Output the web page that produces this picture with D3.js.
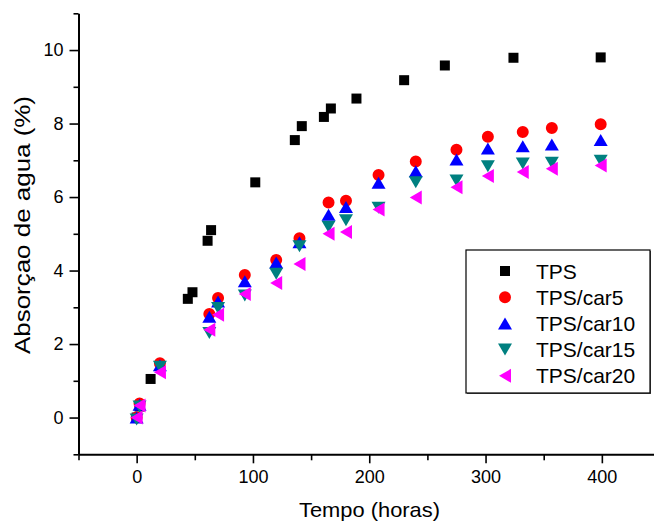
<!DOCTYPE html>
<html>
<head>
<meta charset="utf-8">
<script src="https://cdn.jsdelivr.net/npm/d3@7"></script>
<style>
  body { margin: 0; background: #fff; }
  svg { display: block; font-family: "Liberation Sans", Arial, sans-serif; }
</style>
</head>
<body>
<div id="chart"></div>
<script>
const WIDTH = 654;
const HEIGHT = 523;

// sample times (hours)
const timesTPS = [0, 2.5, 12, 44, 48, 61, 64, 102, 136, 142, 161, 167, 189, 230, 265, 324, 399];
const timesCar = [0, 2.5, 20, 62.5, 70, 93, 120, 140, 165, 180, 208, 240, 275, 302, 332, 357, 399];

// water absorption (%)
const tps = [0, 0.3, 1.05, 3.23, 3.41, 4.81, 5.1, 6.4, 7.55, 7.93, 8.18, 8.41, 8.68, 9.18, 9.58, 9.79, 9.8];
const car5 = [0, 0.38, 1.48, 2.82, 3.25, 3.88, 4.29, 4.88, 5.85, 5.9, 6.6, 6.97, 7.29, 7.64, 7.77, 7.88, 7.98];
const car10 = [0, 0.35, 1.42, 2.74, 3.16, 3.71, 4.22, 4.77, 5.52, 5.73, 6.39, 6.7, 7.02, 7.32, 7.38, 7.43, 7.55];
const car15 = [-0.05, 0.3, 1.38, 2.3, 2.98, 3.32, 3.91, 4.66, 5.19, 5.37, 5.71, 6.4, 6.45, 6.84, 6.91, 6.93, 6.99];
const car20 = [0, 0.33, 1.23, 2.39, 2.8, 3.36, 3.66, 4.18, 5.0, 5.05, 5.66, 5.99, 6.27, 6.57, 6.68, 6.77, 6.86];

const seriesNames = ['TPS', 'TPS/car5', 'TPS/car10', 'TPS/car15', 'TPS/car20'];
const seriesColours = ['#000000', '#ff0000', '#0000ff', '#008080', '#ff00ff'];
const seriesShapes = ['square', 'circle', 'up', 'down', 'left'];

const xMajorTicks = [0, 100, 200, 300, 400];
const xMinorTicks = [-50, 50, 150, 250, 350, 450];
const yMajorTicks = [0, 2, 4, 6, 8, 10];
const yMinorTicks = [-1, 1, 3, 5, 7, 9, 11];

const series = [
  { times: timesTPS, values: tps },
  { times: timesCar, values: car5 },
  { times: timesCar, values: car10 },
  { times: timesCar, values: car15 },
  { times: timesCar, values: car20 },
].map((s, i) => ({
  name: seriesNames[i],
  colour: seriesColours[i],
  shape: seriesShapes[i],
  points: s.times.map((t, j) => ({ t: t, v: s.values[j] })),
}));

const margin = { left: 78.5, top: 13.3, bottom: 454.3, right: 660 };

const x = d3.scaleLinear().domain([-50, 450]).range([margin.left, margin.right]);
const y = d3.scaleLinear().domain([-1, 11]).range([margin.bottom, margin.top]);

// marker path centred on 0,0
const marker = (shape) => {
  switch (shape) {
    case 'square':
      return 'M-5,-5H5V5H-5Z';
    case 'circle':
      return d3.symbol(d3.symbolCircle, 113)();
    case 'up':
      return 'M0,-6L7,6L-7,6Z';
    case 'down':
      return 'M0,6L7,-6L-7,-6Z';
    case 'left':
      return 'M-6,0L6,-7L6,7Z';
  }
};

const svg = d3
  .select('#chart')
  .append('svg')
  .attr('width', WIDTH)
  .attr('height', HEIGHT);

// points
const groups = svg
  .append('g')
  .selectAll('g')
  .data(series)
  .join('g')
  .attr('fill', (d) => d.colour);

groups
  .selectAll('path')
  .data((d) => d.points.map((p) => ({ ...p, shape: d.shape })))
  .join('path')
  .attr('d', (d) => marker(d.shape))
  .attr('transform', (d) => `translate(${x(d.t)},${y(d.v)})`);

// axes
const styleAxis = (g) => {
  g.select('.domain').attr('stroke-width', 2);
  g.selectAll('.tick line').attr('stroke-width', 1.6);
  g.selectAll('.tick text').attr('font-size', 18).attr('fill', '#000');
};

svg
  .append('g')
  .attr('transform', `translate(0,${margin.bottom})`)
  .call(d3.axisBottom(x).tickValues(xMinorTicks).tickSize(6).tickFormat('').tickSizeOuter(0))
  .call(styleAxis);

svg
  .append('g')
  .attr('transform', `translate(0,${margin.bottom})`)
  .call(d3.axisBottom(x).tickValues(xMajorTicks).tickSize(9).tickPadding(7).tickSizeOuter(0))
  .call(styleAxis)
  .call((g) => g.select('.domain').remove());

svg
  .append('g')
  .attr('transform', `translate(${margin.left},0)`)
  .call(d3.axisLeft(y).tickValues(yMinorTicks).tickSize(5).tickFormat('').tickSizeOuter(0))
  .call(styleAxis);

svg
  .append('g')
  .attr('transform', `translate(${margin.left},0)`)
  .call(d3.axisLeft(y).tickValues(yMajorTicks).tickSize(9).tickPadding(6).tickSizeOuter(0))
  .call(styleAxis)
  .call((g) => g.select('.domain').remove());

// axis titles
svg
  .append('text')
  .attr('x', 369.5)
  .attr('y', 517)
  .attr('text-anchor', 'middle')
  .attr('font-size', 21)
  .attr('textLength', 141)
  .attr('lengthAdjust', 'spacingAndGlyphs')
  .text('Tempo (horas)');

svg
  .append('text')
  .attr('transform', 'translate(30,225) rotate(-90)')
  .attr('text-anchor', 'middle')
  .attr('font-size', 22)
  .attr('textLength', 258)
  .attr('lengthAdjust', 'spacingAndGlyphs')
  .text('Absorçao de agua (%)');

// legend
const legend = svg.append('g').attr('transform', 'translate(466,250)');
legend
  .append('rect')
  .attr('x', 1)
  .attr('y', 1)
  .attr('width', 184)
  .attr('height', 143)
  .attr('fill', '#555');
legend
  .append('rect')
  .attr('width', 184)
  .attr('height', 143)
  .attr('fill', '#fff')
  .attr('stroke', '#000')
  .attr('stroke-width', 1.2);

const rows = legend
  .selectAll('g.row')
  .data(series)
  .join('g')
  .attr('class', 'row')
  .attr('transform', (d, i) => `translate(0,${21 + i * 26.2})`);

rows
  .append('path')
  .attr('d', (d) => marker(d.shape))
  .attr('transform', 'translate(39,0)')
  .attr('fill', (d) => d.colour);

rows
  .append('text')
  .attr('x', 70)
  .attr('y', 7.5)
  .attr('font-size', 21)
  .text((d) => d.name);
</script>
</body>
</html>
